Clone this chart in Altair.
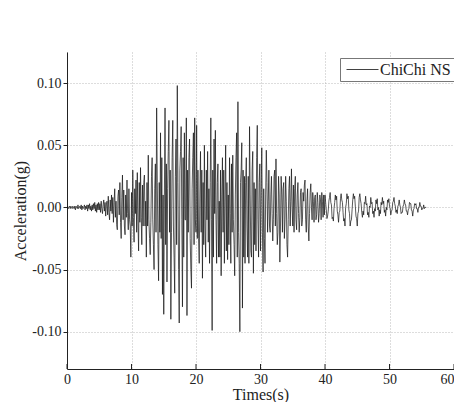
import altair as alt
import pandas as pd

# acceleration samples in thousandths of g, one sample every 0.1 s
seg_00 = [0, 1, -1, 0, 1, -1, 1, 0, -1, 1,
          0, -1, 1, -2, 1, 0, -1, 2, -1, 0,
          1, -1, 2, -2, 1, -1, 0, 2, -2, 1,
          -1, 2, -3, 2, -1, 3, -2, 1, -3, 2,
          -2, 3, -1, 4, -3, 2, -4, 3, -2, 4,
          -2, 3, -4, 5, -1, -5, 2, 6, -3, 4,
          -7, 2, 5, -6, 9, -4, -10, 6, -3, 10,
          -5, 8, -12, 4, 15, -8, 5, -14, -18, 9,
          14, -6, 20, -12, -25, 8, 26, -10, 14, -15,
          -22, 10, -8, 22, -5, -18, 15, -10, -15, -40]
seg_10 = [12, -15, 30, -8, -28, 15, -5, 22, -20, 28,
          -10, -35, 20, -12, 32, -8, -30, 18, -15, 20,
          26, -15, 5, -40, 20, -15, 42, -10, -25, -38,
          -12, 25, 40, -10, -30, -50, 15, 35, -20, 80,
          20, -30, -59, 20, -20, 60, -25, 40, -70, 10,
          -86, 10, 80, -30, 35, -60, 15, 45, 70, -20,
          30, -90, -20, 40, 70, -15, -40, -69, 25, 55,
          -30, 98, 20, -50, -93, 30, 45, 65, -10, -80,
          40, -40, 60, -10, -10, 72, -87, 30, -20, 40,
          55, -25, -50, -65, 15, 40, 60, -30, 72, -10]
seg_20 = [-20, 66, -25, 30, -25, -45, 10, 45, -20, 30,
          -57, 20, -30, 50, -15, -40, 30, -10, 45, -28,
          15, -45, 20, 72, -10, -99, 30, -40, 55, -5,
          62, -10, -45, 20, 35, -40, 5, -40, 30, -55,
          10, 40, -20, 30, -45, 10, 50, -35, 20, -42,
          10, -30, 40, -5, -45, 35, -20, 42, -10, -30,
          -55, 10, 40, 60, -40, 85, -20, -45, -100, 20,
          30, 52, -81, 30, -40, 25, -45, 20, 40, -15,
          -40, 25, -45, 65, 10, -35, -40, 30, 45, -53,
          20, -30, 15, -35, 40, 66, -10, -40, 20, 35]
seg_30 = [-35, 10, 48, -20, -52, 15, -25, -45, 10, 46,
          20, -20, 5, 30, -15, -20, 10, 25, -5, -27,
          -10, 25, 30, -15, 39, -5, -30, -20, 25, 10,
          -44, -15, 25, 10, -20, 15, 20, -25, -10, 25,
          5, -30, -40, -10, 15, 25, -15, 5, 31, 0,
          -15, 18, -20, 15, 25, -10, -18, 10, 20, -5,
          -20, -8, 12, 15, -15, -10, 12, 5, 18, 22,
          -10, -20, 5, 15, -15, -27, -5, 12, 19, 0,
          -10, 12, 5, -12, 8, 10, -10, -6, 12, 4,
          -12, -5, 10, 6, -10, 12, 5, -8, 10, -6]
seg_40 = [10, 4, -2, -9, -7, -3, 5, 8, 12, 4,
          2, -9, -8, -11, -1, 4, 10, 6, 9, -3,
          -6, -12, -4, -3, 7, 11, 6, 4, -4, -11,
          -9, -15, 0, 3, 11, 7, 9, -2, -5, -15,
          -11, -10, -2, 6, 11, 7, 9, 1, -7, -9,
          -15, -5, -3, 8, 11, 6, 3, -4, -8, -3,
          -6, 4, 3, 9, 2, 3, -6, -4, -8, 1,
          0, 8, 3, 4, -5, -3, -8, -1, -3, 6,
          3, 7, -2, 0, -7, -2, -5, 4, 2, 8,
          3, 5, -4, -2, -7, 0, -2, 6, 4, 7]
seg_50 = [1, -1, -6, -3, -2, 4, 5, 8, 3, 1,
          -4, -2, -5, 1, 2, 6, 2, 0, -5, -4,
          -4, 1, 2, 6, 3, 2, -3, -3, -6, -2,
          -1, 4, 3, 3, -2, -3, -7, -2, -1, 3,
          2, 3, -1, -1, -4, 0, 0, 4, 1, 1,
          -2, -1, -1, 2, -1, 0, 0, 0]

x_ticks = [0, 10, 20, 30, 40, 50, 60]
y_ticks = [-0.10, -0.05, 0.00, 0.05, 0.10]
series_name = "ChiChi NS"

vals = seg_00 + seg_10 + seg_20 + seg_30 + seg_40 + seg_50
df = pd.DataFrame({
    "t": [round(i * 0.1, 1) for i in range(len(vals))],
    "a": [v / 1000 for v in vals],
    "series": series_name,
})
ticks_df = pd.DataFrame({"t": x_ticks})

FONT = "Liberation Serif"
xscale = alt.Scale(domain=[0, 60], nice=False)
yscale = alt.Scale(domain=[-0.13, 0.125], nice=False, zero=False)
x_axis = alt.Axis(
    values=x_ticks, format="d", title="Times(s)", ticks=False,
    labelPadding=3, titlePadding=0, labelFlush=False,
    labelAlign={"condition": {"test": "datum.value >= 60", "value": "right"}, "value": "center"},
    gridOpacity={"condition": {"test": "datum.value >= 60", "value": 0}, "value": 1})

line = alt.Chart(df).mark_line(strokeWidth=0.7, clip=True).encode(
    x=alt.X("t:Q", scale=xscale, axis=x_axis),
    y=alt.Y("a:Q", scale=yscale, axis=alt.Axis(
        values=y_ticks, title="Acceleration(g)", tickSize=4, labelPadding=2,
        titlePadding=3,
        labelExpr="replace(format(datum.value, '.2f'), '\u2212', '-')")),
    color=alt.Color("series:N",
                    scale=alt.Scale(domain=[series_name], range=["#111111"]),
                    legend=alt.Legend(orient="none", legendX=273, legendY=6, title=None,
                                      padding=3, strokeColor="#777", fillColor="white",
                                      symbolType="M-2,0H2", symbolSize=256,
                                      symbolStrokeWidth=0.8, symbolOffset=11,
                                      labelFont=FONT, labelFontSize=16,
                                      labelColor="#222", labelOffset=9)),
)

xt = alt.Chart(ticks_df).mark_rule(color="#222", strokeWidth=1).encode(
    x=alt.X("t:Q", scale=xscale, axis=x_axis),
    y=alt.value(317),
    y2=alt.value(312),
)

chart = alt.layer(line, xt).properties(
    width=387, height=317,
    padding={"left": 59, "top": 44, "right": 0, "bottom": 33},
    autosize=alt.AutoSizeParams(type="none"),
).configure_view(stroke=None).configure_axis(
    labelFont=FONT, labelFontSize=14, labelColor="#222",
    titleFont=FONT, titleFontSize=16, titleFontWeight="normal", titleColor="#222",
    domainColor="#222", domainWidth=1, tickColor="#222",
    gridColor="#aaaaaa", gridDash=[1, 2], gridWidth=0.8,
)

chart.save("out.html", embed_options={"renderer": "svg", "actions": False})
